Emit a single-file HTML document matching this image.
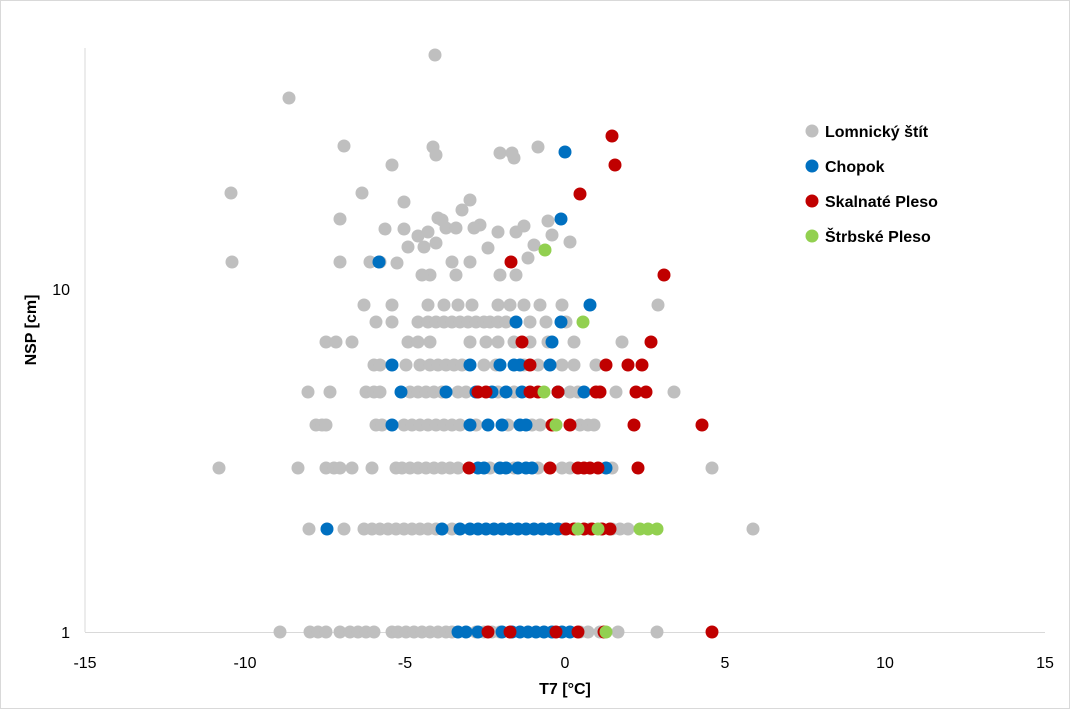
<!DOCTYPE html>
<html><head><meta charset="utf-8"><style>
body{margin:0;background:#fff}
svg{display:block;font-family:"Liberation Sans",sans-serif}
</style></head><body>
<svg width="1070" height="709" viewBox="0 0 1070 709">
<rect x="0.5" y="0.5" width="1069" height="708" fill="#fff" stroke="#d9d9d9"/>
<line x1="85" y1="48" x2="85" y2="632" stroke="#d9d9d9"/>
<line x1="85" y1="632.5" x2="1045" y2="632.5" stroke="#d9d9d9"/>
<g font-size="16" fill="#000" text-anchor="middle">
<text x="85" y="668">-15</text><text x="245" y="668">-10</text><text x="405" y="668">-5</text><text x="565" y="668">0</text><text x="725" y="668">5</text><text x="885" y="668">10</text><text x="1045" y="668">15</text>
<text x="70" y="638" text-anchor="end">1</text><text x="70" y="295" text-anchor="end">10</text>
<text x="565" y="694" font-weight="bold">T7 [°C]</text>
<text transform="translate(36,330) rotate(-90)" font-weight="bold">NSP [cm]</text>
</g>
<g fill="#bfbfbf">
<g transform="translate(0,632)">
<circle cx="280" r="6.5"/><circle cx="310" r="6.5"/><circle cx="318" r="6.5"/><circle cx="326" r="6.5"/><circle cx="340" r="6.5"/><circle cx="350" r="6.5"/><circle cx="358" r="6.5"/><circle cx="366" r="6.5"/><circle cx="374" r="6.5"/><circle cx="392" r="6.5"/><circle cx="398" r="6.5"/><circle cx="406" r="6.5"/><circle cx="414" r="6.5"/><circle cx="422" r="6.5"/><circle cx="430" r="6.5"/><circle cx="438" r="6.5"/><circle cx="446" r="6.5"/><circle cx="452" r="6.5"/><circle cx="476" r="6.5"/><circle cx="484" r="6.5"/><circle cx="492" r="6.5"/><circle cx="500" r="6.5"/><circle cx="580" r="6.5"/><circle cx="588" r="6.5"/><circle cx="600" r="6.5"/><circle cx="618" r="6.5"/><circle cx="657" r="6.5"/>
</g>
<g transform="translate(0,529)">
<circle cx="309" r="6.5"/><circle cx="344" r="6.5"/><circle cx="364" r="6.5"/><circle cx="372" r="6.5"/><circle cx="380" r="6.5"/><circle cx="388" r="6.5"/><circle cx="396" r="6.5"/><circle cx="404" r="6.5"/><circle cx="412" r="6.5"/><circle cx="420" r="6.5"/><circle cx="428" r="6.5"/><circle cx="436" r="6.5"/><circle cx="452" r="6.5"/><circle cx="564" r="6.5"/><circle cx="590" r="6.5"/><circle cx="612" r="6.5"/><circle cx="620" r="6.5"/><circle cx="628" r="6.5"/><circle cx="753" r="6.5"/>
</g>
<g transform="translate(0,468)">
<circle cx="219" r="6.5"/><circle cx="298" r="6.5"/><circle cx="326" r="6.5"/><circle cx="334" r="6.5"/><circle cx="340" r="6.5"/><circle cx="352" r="6.5"/><circle cx="372" r="6.5"/><circle cx="396" r="6.5"/><circle cx="402" r="6.5"/><circle cx="410" r="6.5"/><circle cx="418" r="6.5"/><circle cx="426" r="6.5"/><circle cx="434" r="6.5"/><circle cx="442" r="6.5"/><circle cx="450" r="6.5"/><circle cx="458" r="6.5"/><circle cx="490" r="6.5"/><circle cx="514" r="6.5"/><circle cx="538" r="6.5"/><circle cx="562" r="6.5"/><circle cx="570" r="6.5"/><circle cx="612" r="6.5"/><circle cx="712" r="6.5"/>
</g>
<g transform="translate(0,425)">
<circle cx="316" r="6.5"/><circle cx="322" r="6.5"/><circle cx="326" r="6.5"/><circle cx="376" r="6.5"/><circle cx="382" r="6.5"/><circle cx="404" r="6.5"/><circle cx="412" r="6.5"/><circle cx="420" r="6.5"/><circle cx="428" r="6.5"/><circle cx="436" r="6.5"/><circle cx="444" r="6.5"/><circle cx="452" r="6.5"/><circle cx="460" r="6.5"/><circle cx="476" r="6.5"/><circle cx="508" r="6.5"/><circle cx="532" r="6.5"/><circle cx="540" r="6.5"/><circle cx="580" r="6.5"/><circle cx="588" r="6.5"/><circle cx="594" r="6.5"/>
</g>
<g transform="translate(0,392)">
<circle cx="308" r="6.5"/><circle cx="330" r="6.5"/><circle cx="366" r="6.5"/><circle cx="374" r="6.5"/><circle cx="380" r="6.5"/><circle cx="410" r="6.5"/><circle cx="418" r="6.5"/><circle cx="426" r="6.5"/><circle cx="434" r="6.5"/><circle cx="442" r="6.5"/><circle cx="458" r="6.5"/><circle cx="466" r="6.5"/><circle cx="498" r="6.5"/><circle cx="514" r="6.5"/><circle cx="570" r="6.5"/><circle cx="578" r="6.5"/><circle cx="616" r="6.5"/><circle cx="674" r="6.5"/>
</g>
<g transform="translate(0,365)">
<circle cx="374" r="6.5"/><circle cx="380" r="6.5"/><circle cx="406" r="6.5"/><circle cx="420" r="6.5"/><circle cx="430" r="6.5"/><circle cx="438" r="6.5"/><circle cx="446" r="6.5"/><circle cx="454" r="6.5"/><circle cx="462" r="6.5"/><circle cx="484" r="6.5"/><circle cx="496" r="6.5"/><circle cx="524" r="6.5"/><circle cx="538" r="6.5"/><circle cx="562" r="6.5"/><circle cx="574" r="6.5"/><circle cx="596" r="6.5"/>
</g>
<g transform="translate(0,342)">
<circle cx="326" r="6.5"/><circle cx="336" r="6.5"/><circle cx="352" r="6.5"/><circle cx="408" r="6.5"/><circle cx="418" r="6.5"/><circle cx="430" r="6.5"/><circle cx="470" r="6.5"/><circle cx="486" r="6.5"/><circle cx="498" r="6.5"/><circle cx="514" r="6.5"/><circle cx="530" r="6.5"/><circle cx="548" r="6.5"/><circle cx="574" r="6.5"/><circle cx="622" r="6.5"/>
</g>
<g transform="translate(0,322)">
<circle cx="376" r="6.5"/><circle cx="392" r="6.5"/><circle cx="418" r="6.5"/><circle cx="428" r="6.5"/><circle cx="436" r="6.5"/><circle cx="444" r="6.5"/><circle cx="452" r="6.5"/><circle cx="460" r="6.5"/><circle cx="468" r="6.5"/><circle cx="476" r="6.5"/><circle cx="484" r="6.5"/><circle cx="490" r="6.5"/><circle cx="498" r="6.5"/><circle cx="506" r="6.5"/><circle cx="530" r="6.5"/><circle cx="546" r="6.5"/><circle cx="566" r="6.5"/>
</g>
<g transform="translate(0,305)">
<circle cx="364" r="6.5"/><circle cx="392" r="6.5"/><circle cx="428" r="6.5"/><circle cx="444" r="6.5"/><circle cx="458" r="6.5"/><circle cx="472" r="6.5"/><circle cx="498" r="6.5"/><circle cx="510" r="6.5"/><circle cx="524" r="6.5"/><circle cx="540" r="6.5"/><circle cx="562" r="6.5"/><circle cx="658" r="6.5"/>
</g>
<circle cx="435" cy="55" r="6.5"/><circle cx="289" cy="98" r="6.5"/><circle cx="344" cy="146" r="6.5"/><circle cx="433" cy="147" r="6.5"/><circle cx="436" cy="155" r="6.5"/><circle cx="392" cy="165" r="6.5"/><circle cx="500" cy="153" r="6.5"/><circle cx="512" cy="153" r="6.5"/><circle cx="514" cy="158" r="6.5"/><circle cx="538" cy="147" r="6.5"/><circle cx="231" cy="193" r="6.5"/><circle cx="362" cy="193" r="6.5"/><circle cx="404" cy="202" r="6.5"/><circle cx="462" cy="210" r="6.5"/><circle cx="340" cy="219" r="6.5"/><circle cx="438" cy="218" r="6.5"/><circle cx="442" cy="220" r="6.5"/><circle cx="470" cy="200" r="6.5"/><circle cx="480" cy="225" r="6.5"/><circle cx="524" cy="226" r="6.5"/><circle cx="548" cy="221" r="6.5"/><circle cx="385" cy="229" r="6.5"/><circle cx="404" cy="229" r="6.5"/><circle cx="418" cy="236" r="6.5"/><circle cx="428" cy="232" r="6.5"/><circle cx="446" cy="228" r="6.5"/><circle cx="456" cy="228" r="6.5"/><circle cx="474" cy="228" r="6.5"/><circle cx="498" cy="232" r="6.5"/><circle cx="516" cy="232" r="6.5"/><circle cx="552" cy="235" r="6.5"/><circle cx="570" cy="242" r="6.5"/><circle cx="232" cy="262" r="6.5"/><circle cx="340" cy="262" r="6.5"/><circle cx="370" cy="262" r="6.5"/><circle cx="397" cy="263" r="6.5"/><circle cx="408" cy="247" r="6.5"/><circle cx="424" cy="247" r="6.5"/><circle cx="436" cy="243" r="6.5"/><circle cx="488" cy="248" r="6.5"/><circle cx="452" cy="262" r="6.5"/><circle cx="470" cy="262" r="6.5"/><circle cx="430" cy="275" r="6.5"/><circle cx="422" cy="275" r="6.5"/><circle cx="456" cy="275" r="6.5"/><circle cx="500" cy="275" r="6.5"/><circle cx="516" cy="275" r="6.5"/><circle cx="380" cy="262" r="6.5"/><circle cx="528" cy="258" r="6.5"/><circle cx="534" cy="245" r="6.5"/>
</g>
<g fill="#0070c0">
<g transform="translate(0,632)"><circle cx="458" r="6.5"/><circle cx="466" r="6.5"/><circle cx="478" r="6.5"/><circle cx="502" r="6.5"/><circle cx="512" r="6.5"/><circle cx="520" r="6.5"/><circle cx="528" r="6.5"/><circle cx="536" r="6.5"/><circle cx="544" r="6.5"/><circle cx="552" r="6.5"/><circle cx="562" r="6.5"/><circle cx="570" r="6.5"/></g>
<g transform="translate(0,529)"><circle cx="327" r="6.5"/><circle cx="442" r="6.5"/><circle cx="460" r="6.5"/><circle cx="470" r="6.5"/><circle cx="478" r="6.5"/><circle cx="486" r="6.5"/><circle cx="494" r="6.5"/><circle cx="502" r="6.5"/><circle cx="510" r="6.5"/><circle cx="518" r="6.5"/><circle cx="526" r="6.5"/><circle cx="534" r="6.5"/><circle cx="542" r="6.5"/><circle cx="550" r="6.5"/><circle cx="558" r="6.5"/></g>
<g transform="translate(0,468)"><circle cx="478" r="6.5"/><circle cx="484" r="6.5"/><circle cx="500" r="6.5"/><circle cx="506" r="6.5"/><circle cx="518" r="6.5"/><circle cx="526" r="6.5"/><circle cx="532" r="6.5"/><circle cx="606" r="6.5"/></g>
<g transform="translate(0,425)"><circle cx="392" r="6.5"/><circle cx="470" r="6.5"/><circle cx="488" r="6.5"/><circle cx="502" r="6.5"/><circle cx="520" r="6.5"/><circle cx="526" r="6.5"/></g>
<g transform="translate(0,392)"><circle cx="401" r="6.5"/><circle cx="446" r="6.5"/><circle cx="476" r="6.5"/><circle cx="492" r="6.5"/><circle cx="506" r="6.5"/><circle cx="522" r="6.5"/><circle cx="558" r="6.5"/><circle cx="584" r="6.5"/></g>
<g transform="translate(0,365)"><circle cx="392" r="6.5"/><circle cx="470" r="6.5"/><circle cx="500" r="6.5"/><circle cx="514" r="6.5"/><circle cx="520" r="6.5"/><circle cx="550" r="6.5"/></g>
<circle cx="552" cy="342" r="6.5"/><circle cx="516" cy="322" r="6.5"/><circle cx="561" cy="322" r="6.5"/><circle cx="590" cy="305" r="6.5"/>
<circle cx="565" cy="152" r="6.5"/><circle cx="561" cy="219" r="6.5"/><circle cx="379" cy="262" r="6.5"/>
</g>
<g fill="#c00000">
<g transform="translate(0,632)"><circle cx="488" r="6.5"/><circle cx="510" r="6.5"/><circle cx="556" r="6.5"/><circle cx="578" r="6.5"/><circle cx="604" r="6.5"/><circle cx="712" r="6.5"/></g>
<g transform="translate(0,529)"><circle cx="566" r="6.5"/><circle cx="574" r="6.5"/><circle cx="584" r="6.5"/><circle cx="592" r="6.5"/><circle cx="602" r="6.5"/><circle cx="610" r="6.5"/></g>
<g transform="translate(0,468)"><circle cx="469" r="6.5"/><circle cx="550" r="6.5"/><circle cx="578" r="6.5"/><circle cx="584" r="6.5"/><circle cx="590" r="6.5"/><circle cx="598" r="6.5"/><circle cx="638" r="6.5"/></g>
<g transform="translate(0,425)"><circle cx="552" r="6.5"/><circle cx="570" r="6.5"/><circle cx="634" r="6.5"/><circle cx="702" r="6.5"/></g>
<g transform="translate(0,392)"><circle cx="478" r="6.5"/><circle cx="486" r="6.5"/><circle cx="530" r="6.5"/><circle cx="538" r="6.5"/><circle cx="558" r="6.5"/><circle cx="596" r="6.5"/><circle cx="600" r="6.5"/><circle cx="636" r="6.5"/><circle cx="646" r="6.5"/></g>
<g transform="translate(0,365)"><circle cx="530" r="6.5"/><circle cx="606" r="6.5"/><circle cx="628" r="6.5"/><circle cx="642" r="6.5"/></g>
<circle cx="522" cy="342" r="6.5"/><circle cx="651" cy="342" r="6.5"/>
<circle cx="612" cy="136" r="6.5"/><circle cx="615" cy="165" r="6.5"/><circle cx="580" cy="194" r="6.5"/><circle cx="511" cy="262" r="6.5"/><circle cx="664" cy="275" r="6.5"/>
</g>
<g fill="#92d050">
<circle cx="606" cy="632" r="6.5"/>
<circle cx="578" cy="529" r="6.5"/><circle cx="598" cy="529" r="6.5"/><circle cx="640" cy="529" r="6.5"/><circle cx="648" cy="529" r="6.5"/><circle cx="657" cy="529" r="6.5"/>
<circle cx="556" cy="425" r="6.5"/><circle cx="544" cy="392" r="6.5"/><circle cx="583" cy="322" r="6.5"/><circle cx="545" cy="250" r="6.5"/>
</g>
<g font-size="16" font-weight="bold" fill="#000">
<circle cx="812" cy="131" r="6.5" fill="#bfbfbf"/><text x="825" y="137">Lomnický štít</text>
<circle cx="812" cy="166" r="6.5" fill="#0070c0"/><text x="825" y="172">Chopok</text>
<circle cx="812" cy="201" r="6.5" fill="#c00000"/><text x="825" y="207">Skalnaté Pleso</text>
<circle cx="812" cy="236" r="6.5" fill="#92d050"/><text x="825" y="242">Štrbské Pleso</text>
</g>
</svg>
</body></html>
